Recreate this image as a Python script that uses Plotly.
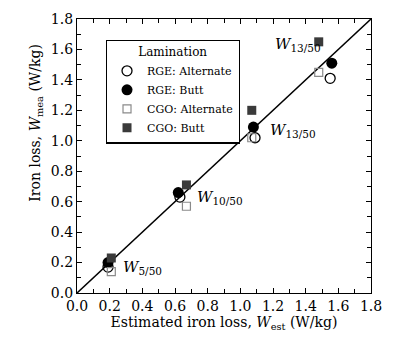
import plotly.graph_objects as go

# Data (estimated, measured) in W/kg
rge_alt_est = [0.19, 0.63, 1.09, 1.55]
rge_alt_mea = [0.17, 0.63, 1.02, 1.41]
rge_butt_est = [0.19, 0.62, 1.08, 1.56]
rge_butt_mea = [0.20, 0.66, 1.09, 1.51]
cgo_alt_est = [0.21, 0.67, 1.07, 1.48]
cgo_alt_mea = [0.14, 0.57, 1.02, 1.45]
cgo_butt_est = [0.21, 0.67, 1.07, 1.48]
cgo_butt_mea = [0.23, 0.71, 1.20, 1.65]
line_xy = [0.0, 1.8]
tick_vals = [0.0, 0.2, 0.4, 0.6, 0.8, 1.0, 1.2, 1.4, 1.6, 1.8]
tick_text = ["0.0", "0.2", "0.4", "0.6", "0.8", "1.0", "1.2", "1.4", "1.6", "1.8"]

FONT = "DejaVu Serif"

fig = go.Figure()
fig.add_trace(go.Scatter(x=line_xy, y=line_xy, mode="lines",
                         line=dict(color="black", width=1.5), showlegend=False,
                         hoverinfo="skip"))
fig.add_trace(go.Scatter(x=rge_alt_est, y=rge_alt_mea, mode="markers", name="RGE: Alternate",
                         marker=dict(symbol="circle-open", size=10, color="black",
                                     line=dict(width=1.3, color="black"))))
fig.add_trace(go.Scatter(x=rge_butt_est, y=rge_butt_mea, mode="markers", name="RGE: Butt",
                         marker=dict(symbol="circle", size=11, color="black")))
fig.add_trace(go.Scatter(x=cgo_alt_est, y=cgo_alt_mea, mode="markers", name="CGO: Alternate",
                         marker=dict(symbol="square-open", size=8, color="#8a8a8a",
                                     line=dict(width=1.2, color="#8a8a8a"))))
fig.add_trace(go.Scatter(x=cgo_butt_est, y=cgo_butt_mea, mode="markers", name="CGO: Butt",
                         marker=dict(symbol="square", size=9, color="#3a3a3a")))

def wlabel(x, y, sub):
    fig.add_annotation(x=x, y=y, xref="x", yref="y", showarrow=False,
                       text="<i>W</i><sub>" + sub + "</sub>", xanchor="left",
                       font=dict(family=FONT, size=15, color="black"))

wlabel(1.20, 1.63, "13/50")
wlabel(1.17, 1.07, "13/50")
wlabel(0.72, 0.63, "10/50")
wlabel(0.27, 0.17, "5/50")

axis_common = dict(range=[0, 1.8], tickvals=tick_vals, ticktext=tick_text,
                   ticks="inside", ticklen=5, tickwidth=1, tickcolor="black",
                   showline=True, linecolor="black", linewidth=1.2, mirror="allticks",
                   showgrid=False, zeroline=False,
                   tickfont=dict(family=FONT, size=14, color="black"),
                   minor=dict(dtick=0.1, ticks="inside", ticklen=4, tickcolor="black", showgrid=False))

fig.update_xaxes(**axis_common,
                 title=dict(text="Estimated iron loss, <i>W</i><sub>est</sub> (W/kg)",
                            font=dict(family=FONT, size=14, color="black"), standoff=4))
fig.update_yaxes(**axis_common, title=None)

fig.add_annotation(x=-0.175, y=0.62, xref="paper", yref="paper", showarrow=False,
                   text="Iron loss, <i>W</i><sub>mea</sub> (W/kg)", textangle=-90,
                   font=dict(family=FONT, size=14, color="black"))

fig.update_layout(
    width=393, height=342,
    margin=dict(l=77, r=11, t=17, b=49),
    plot_bgcolor="white", paper_bgcolor="white",
    font=dict(family=FONT, size=14, color="black"),
    legend=dict(x=0.098, y=0.925, xanchor="left", yanchor="top",
                bgcolor="white", bordercolor="black", borderwidth=1.2,
                title=dict(text="Lamination", side="top center",
                           font=dict(family=FONT, size=12, color="black")),
                font=dict(family=FONT, size=11, color="black"),
                itemwidth=30, tracegroupgap=0),
)

fig.write_html("out.html", config={"displayModeBar": False},
               post_script="document.body.style.margin='0';document.body.style.overflow='hidden';")
